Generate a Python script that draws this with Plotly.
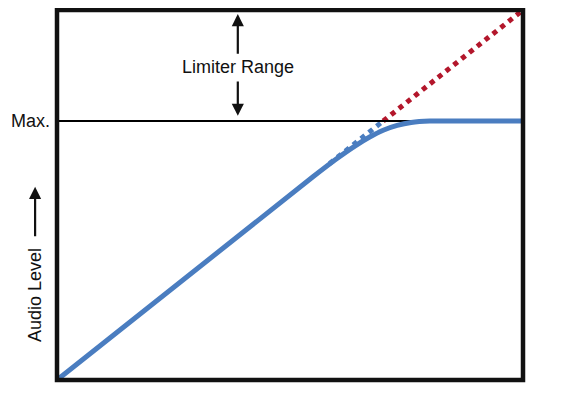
import plotly.graph_objects as go

# Data (normalized input level -> output level)
curve_x = [0.0, 0.55, 0.60, 0.64, 0.67, 0.70, 0.73, 0.76, 0.80, 0.85, 1.0]
curve_y = [0.0, 0.55, 0.598, 0.633, 0.656, 0.675, 0.688, 0.696, 0.700, 0.700, 0.700]
blue_dot_x = [0.585, 0.70]
blue_dot_y = [0.585, 0.70]
red_dot_x = [0.70, 1.0]
red_dot_y = [0.70, 1.0]
max_level = 0.70

BLUE = "#4a7dc0"
RED = "#b3162b"
FONT = "Liberation Sans, Arial, sans-serif"

fig = go.Figure()
fig.add_trace(go.Scatter(x=red_dot_x, y=red_dot_y, mode="lines",
                         line=dict(color=RED, width=5, dash="dot"), hoverinfo="skip",
                         cliponaxis=False))
fig.add_trace(go.Scatter(x=blue_dot_x, y=blue_dot_y, mode="lines",
                         line=dict(color=BLUE, width=5, dash="dot"), hoverinfo="skip"))
fig.add_trace(go.Scatter(x=[0, 1], y=[max_level, max_level], mode="lines",
                         line=dict(color="black", width=2), hoverinfo="skip"))
fig.add_trace(go.Scatter(x=curve_x, y=curve_y, mode="lines",
                         line=dict(color=BLUE, width=5, shape="spline", smoothing=0.6),
                         hoverinfo="skip", cliponaxis=False))

fig.add_shape(type="rect", xref="paper", yref="paper", x0=0, x1=1, y0=0, y1=1,
              line=dict(color="#111111", width=4.5), layer="above")

ax_x = 0.388
# arrows
fig.add_annotation(x=ax_x, y=0.989, ax=ax_x, ay=0.878, xref="x", yref="y",
                   axref="x", ayref="y", showarrow=True, arrowhead=2,
                   arrowsize=1.1, arrowwidth=2.2, arrowcolor="#111111", text="")
fig.add_annotation(x=ax_x, y=0.714, ax=ax_x, ay=0.811, xref="x", yref="y",
                   axref="x", ayref="y", showarrow=True, arrowhead=2,
                   arrowsize=1.1, arrowwidth=2.2, arrowcolor="#111111", text="")
fig.add_annotation(x=ax_x, y=0.846, xref="x", yref="y", text="Limiter Range",
                   showarrow=False, font=dict(family=FONT, size=18, color="#111111"))
fig.add_annotation(x=0, y=max_level, xref="paper", yref="y", text="Max.",
                   showarrow=False, xanchor="right", xshift=-5,
                   font=dict(family=FONT, size=18, color="#111111"))
fig.add_annotation(x=-0.047, y=0.23, xref="paper", yref="paper", text="Audio Level",
                   showarrow=False, textangle=-90, xanchor="center", yanchor="middle",
                   font=dict(family=FONT, size=18, color="#111111"))
# arrow next to axis label
fig.add_annotation(x=-0.047, y=0.522, ax=0, ay=51, xref="paper", yref="paper",
                   showarrow=True, arrowhead=2,
                   arrowsize=1.1, arrowwidth=2.2, arrowcolor="#111111", text="")

fig.update_xaxes(range=[0, 1], visible=False, fixedrange=True)
fig.update_yaxes(range=[0, 1], visible=False, fixedrange=True)
fig.update_layout(width=559, height=382, showlegend=False,
                  margin=dict(l=49, r=44, t=2, b=10),
                  paper_bgcolor="white", plot_bgcolor="white")

fig.write_html("out.html")
